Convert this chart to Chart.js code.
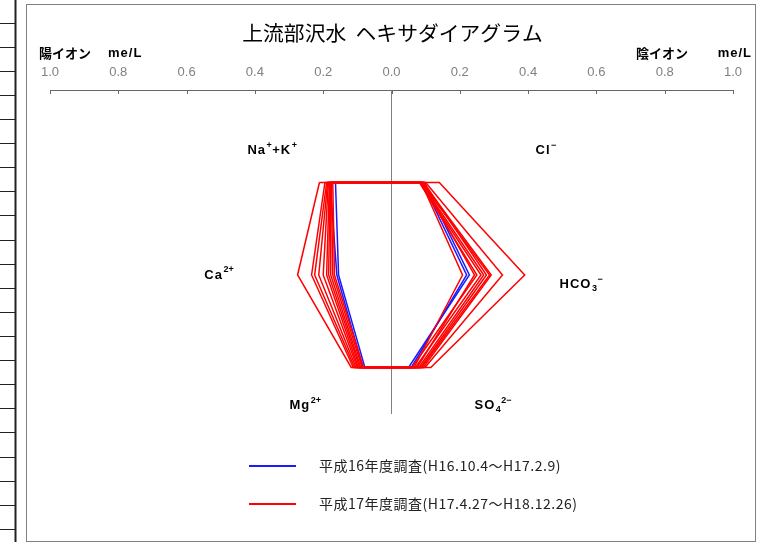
<!DOCTYPE html>
<html>
<head>
<meta charset="utf-8">
<title>上流部沢水 ヘキサダイアグラム</title>
<script src="https://cdn.jsdelivr.net/npm/chart.js@4.4.1/dist/chart.umd.min.js"></script>
<style>
  html, body { margin: 0; padding: 0; background: #fff; }
  #wrap { width: 777px; height: 542px; }
</style>
</head>
<body>
<div id="wrap"><canvas id="hexa" width="777" height="542"></canvas></div>
<script>
// Tick labels along the top axis (cations to the left, anions to the right)
const tickLabels = ['1.0', '0.8', '0.6', '0.4', '0.2', '0.0', '0.2', '0.4', '0.6', '0.8', '1.0'];

// H16 survey (H16.10.4 - H17.2.9), me/L
const h16NaK = [0.180, 0.164];
const h16Ca = [0.160, 0.155];
const h16Mg = [0.084, 0.078];
const h16Cl = [0.096, 0.090];
const h16HCO3 = [0.228, 0.220];
const h16SO4 = [0.050, 0.058];

// H17 survey (H17.4.27 - H18.12.26), me/L
const h17NaK = [0.211, 0.195, 0.190, 0.187, 0.185, 0.182, 0.180, 0.178, 0.176, 0.172];
const h17Ca = [0.275, 0.234, 0.225, 0.213, 0.200, 0.190, 0.184, 0.178, 0.172, 0.167];
const h17Mg = [0.118, 0.112, 0.108, 0.104, 0.100, 0.097, 0.093, 0.090, 0.086, 0.082];
const h17Cl = [0.140, 0.100, 0.092, 0.088, 0.095, 0.086, 0.090, 0.083, 0.087, 0.082];
const h17HCO3 = [0.390, 0.325, 0.292, 0.287, 0.278, 0.270, 0.243, 0.262, 0.208, 0.250];
const h17SO4 = [0.115, 0.098, 0.093, 0.088, 0.085, 0.080, 0.075, 0.070, 0.066, 0.060];

const legendLabels = ['平成16年度調査(H16.10.4～H17.2.9)', '平成17年度調査(H17.4.27～H18.12.26)'];
const seriesColors = ['#1a1aff', '#ff0000'];

// rows of the hexagon
const ROW_TOP = 3, ROW_MID = 2, ROW_BOT = 1;

function hexagon(nak, ca, mg, so4, hco3, cl) {
    return [
        {x: -nak, y: ROW_TOP},
        {x: -ca, y: ROW_MID},
        {x: -mg, y: ROW_BOT},
        {x: so4, y: ROW_BOT},
        {x: hco3, y: ROW_MID},
        {x: cl, y: ROW_TOP},
        {x: -nak, y: ROW_TOP}
    ];
}

const datasets = [];
h17NaK.forEach((v, i) => {
    datasets.push({
        data: hexagon(v, h17Ca[i], h17Mg[i], h17SO4[i], h17HCO3[i], h17Cl[i]),
        borderColor: seriesColors[1],
        borderWidth: 1.5,
        order: 1
    });
});
h16NaK.forEach((v, i) => {
    datasets.push({
        data: hexagon(v, h16Ca[i], h16Mg[i], h16SO4[i], h16HCO3[i], h16Cl[i]),
        borderColor: seriesColors[0],
        borderWidth: 1.5,
        order: 2
    });
});
// centre line
datasets.push({
    data: [{x: 0, y: 4}, {x: 0, y: 0.5}],
    borderColor: '#808080',
    borderWidth: 1,
    order: 3
});

// little helper for labels with super/subscripts
function drawIon(ctx, parts, x, y) {
    let cx = x;
    parts.forEach(p => {
        const txt = p[0], kind = p[1];
        ctx.font = kind ? 'bold 9px "Liberation Sans"' : 'bold 13px "Liberation Sans"';
        ctx.letterSpacing = kind ? '0px' : '1px';
        const dy = kind === 'sup' ? -5 : (kind === 'sub' ? 4 : 0);
        ctx.fillText(txt, cx, y + dy);
        cx += ctx.measureText(txt).width + 0.5;
    });
    ctx.letterSpacing = '0px';
}

const decorations = {
    id: 'decorations',
    beforeDraw(chart) {
        const ctx = chart.ctx;
        ctx.save();
        ctx.fillStyle = '#fff';
        ctx.fillRect(0, 0, chart.width, chart.height);

        // spreadsheet gutter at the left
        ctx.strokeStyle = '#222';
        ctx.lineWidth = 1;
        for (let y = 22.7; y < chart.height; y += 24.1) {
            ctx.beginPath();
            ctx.moveTo(0, Math.round(y) + 0.5);
            ctx.lineTo(15, Math.round(y) + 0.5);
            ctx.stroke();
        }
        ctx.lineWidth = 2;
        ctx.beginPath();
        ctx.moveTo(15.5, 0);
        ctx.lineTo(15.5, chart.height);
        ctx.stroke();

        // chart frame
        ctx.strokeStyle = '#808080';
        ctx.lineWidth = 1;
        ctx.strokeRect(26.5, 4.5, 729, 537);
        ctx.restore();
    },
    afterDraw(chart) {
        const ctx = chart.ctx;
        const xs = chart.scales.x, ys = chart.scales.y;
        ctx.save();

        // tick marks hanging below the axis line
        ctx.strokeStyle = '#666';
        ctx.lineWidth = 1;
        xs.ticks.forEach(t => {
            const px = Math.round(xs.getPixelForValue(t.value)) + 0.5;
            ctx.beginPath();
            ctx.moveTo(px, xs.bottom);
            ctx.lineTo(px, xs.bottom + 4);
            ctx.stroke();
        });

        // title
        ctx.fillStyle = '#000';
        ctx.textBaseline = 'middle';
        ctx.textAlign = 'center';
        ctx.font = '20.8px "Noto Sans CJK JP"';
        ctx.fillText('上流部沢水  ヘキサダイアグラム', (chart.chartArea.left + chart.chartArea.right) / 2 + 1, 33);

        // axis units
        ctx.textAlign = 'left';
        ctx.font = 'bold 13px "Noto Sans CJK JP"';
        ctx.fillText('陽イオン', 39, 53);
        ctx.fillText('陰イオン', 636, 53);
        ctx.font = 'bold 13px "Liberation Sans"';
        ctx.letterSpacing = '1px';
        ctx.fillText('me/L', 108, 53);
        ctx.textAlign = 'right';
        ctx.fillText('me/L', 752, 53);
        ctx.letterSpacing = '0px';

        // ion labels
        ctx.textAlign = 'left';
        drawIon(ctx, [['Na'], ['+', 'sup'], ['+K'], ['+', 'sup']], xs.getPixelForValue(-0.422), ys.getPixelForValue(3.35));
        drawIon(ctx, [['Cl'], ['−', 'sup']], xs.getPixelForValue(0.422), ys.getPixelForValue(3.35));
        drawIon(ctx, [['Ca'], ['2+', 'sup']], xs.getPixelForValue(-0.548), ys.getPixelForValue(2.0));
        drawIon(ctx, [['HCO'], ['3', 'sub'], ['−', 'sup']], xs.getPixelForValue(0.492), ys.getPixelForValue(1.9));
        drawIon(ctx, [['Mg'], ['2+', 'sup']], xs.getPixelForValue(-0.299), ys.getPixelForValue(0.59));
        drawIon(ctx, [['SO'], ['4', 'sub'], ['2−', 'sup']], xs.getPixelForValue(0.243), ys.getPixelForValue(0.59));

        // legend
        const legendY = [466, 504];
        legendLabels.forEach((label, i) => {
            ctx.strokeStyle = seriesColors[i];
            ctx.lineWidth = 2;
            ctx.beginPath();
            ctx.moveTo(249, legendY[i]);
            ctx.lineTo(296, legendY[i]);
            ctx.stroke();
            ctx.fillStyle = '#222';
            ctx.font = '14px "Noto Sans CJK JP"';
            ctx.letterSpacing = '0.5px';
            ctx.fillText(label, 319, legendY[i]);
            ctx.letterSpacing = '0px';
        });
        ctx.restore();
    }
};

new Chart(document.getElementById('hexa'), {
    type: 'scatter',
    data: { datasets: datasets },
    options: {
        responsive: false,
        animation: false,
        devicePixelRatio: 1,
        showLine: true,
        layout: { padding: { top: 0, left: 50, right: 44, bottom: 82 } },
        elements: {
            point: { radius: 0, hoverRadius: 0 },
            line: { tension: 0, fill: false }
        },
        plugins: {
            legend: { display: false },
            tooltip: { enabled: false }
        },
        scales: {
            x: {
                type: 'linear',
                position: 'top',
                min: -1,
                max: 1,
                afterFit: scale => { scale.height = 90; },
                grid: { drawOnChartArea: false, drawTicks: false },
                border: { display: true, color: '#666', width: 1 },
                ticks: {
                    stepSize: 0.2,
                    padding: 10,
                    maxRotation: 0,
                    autoSkip: false,
                    color: '#808080',
                    font: { family: '"Liberation Sans"', size: 13 },
                    callback: (value, index) => tickLabels[index]
                }
            },
            y: {
                display: false,
                min: 0,
                max: 4
            }
        }
    },
    plugins: [decorations]
});
</script>
</body>
</html>
